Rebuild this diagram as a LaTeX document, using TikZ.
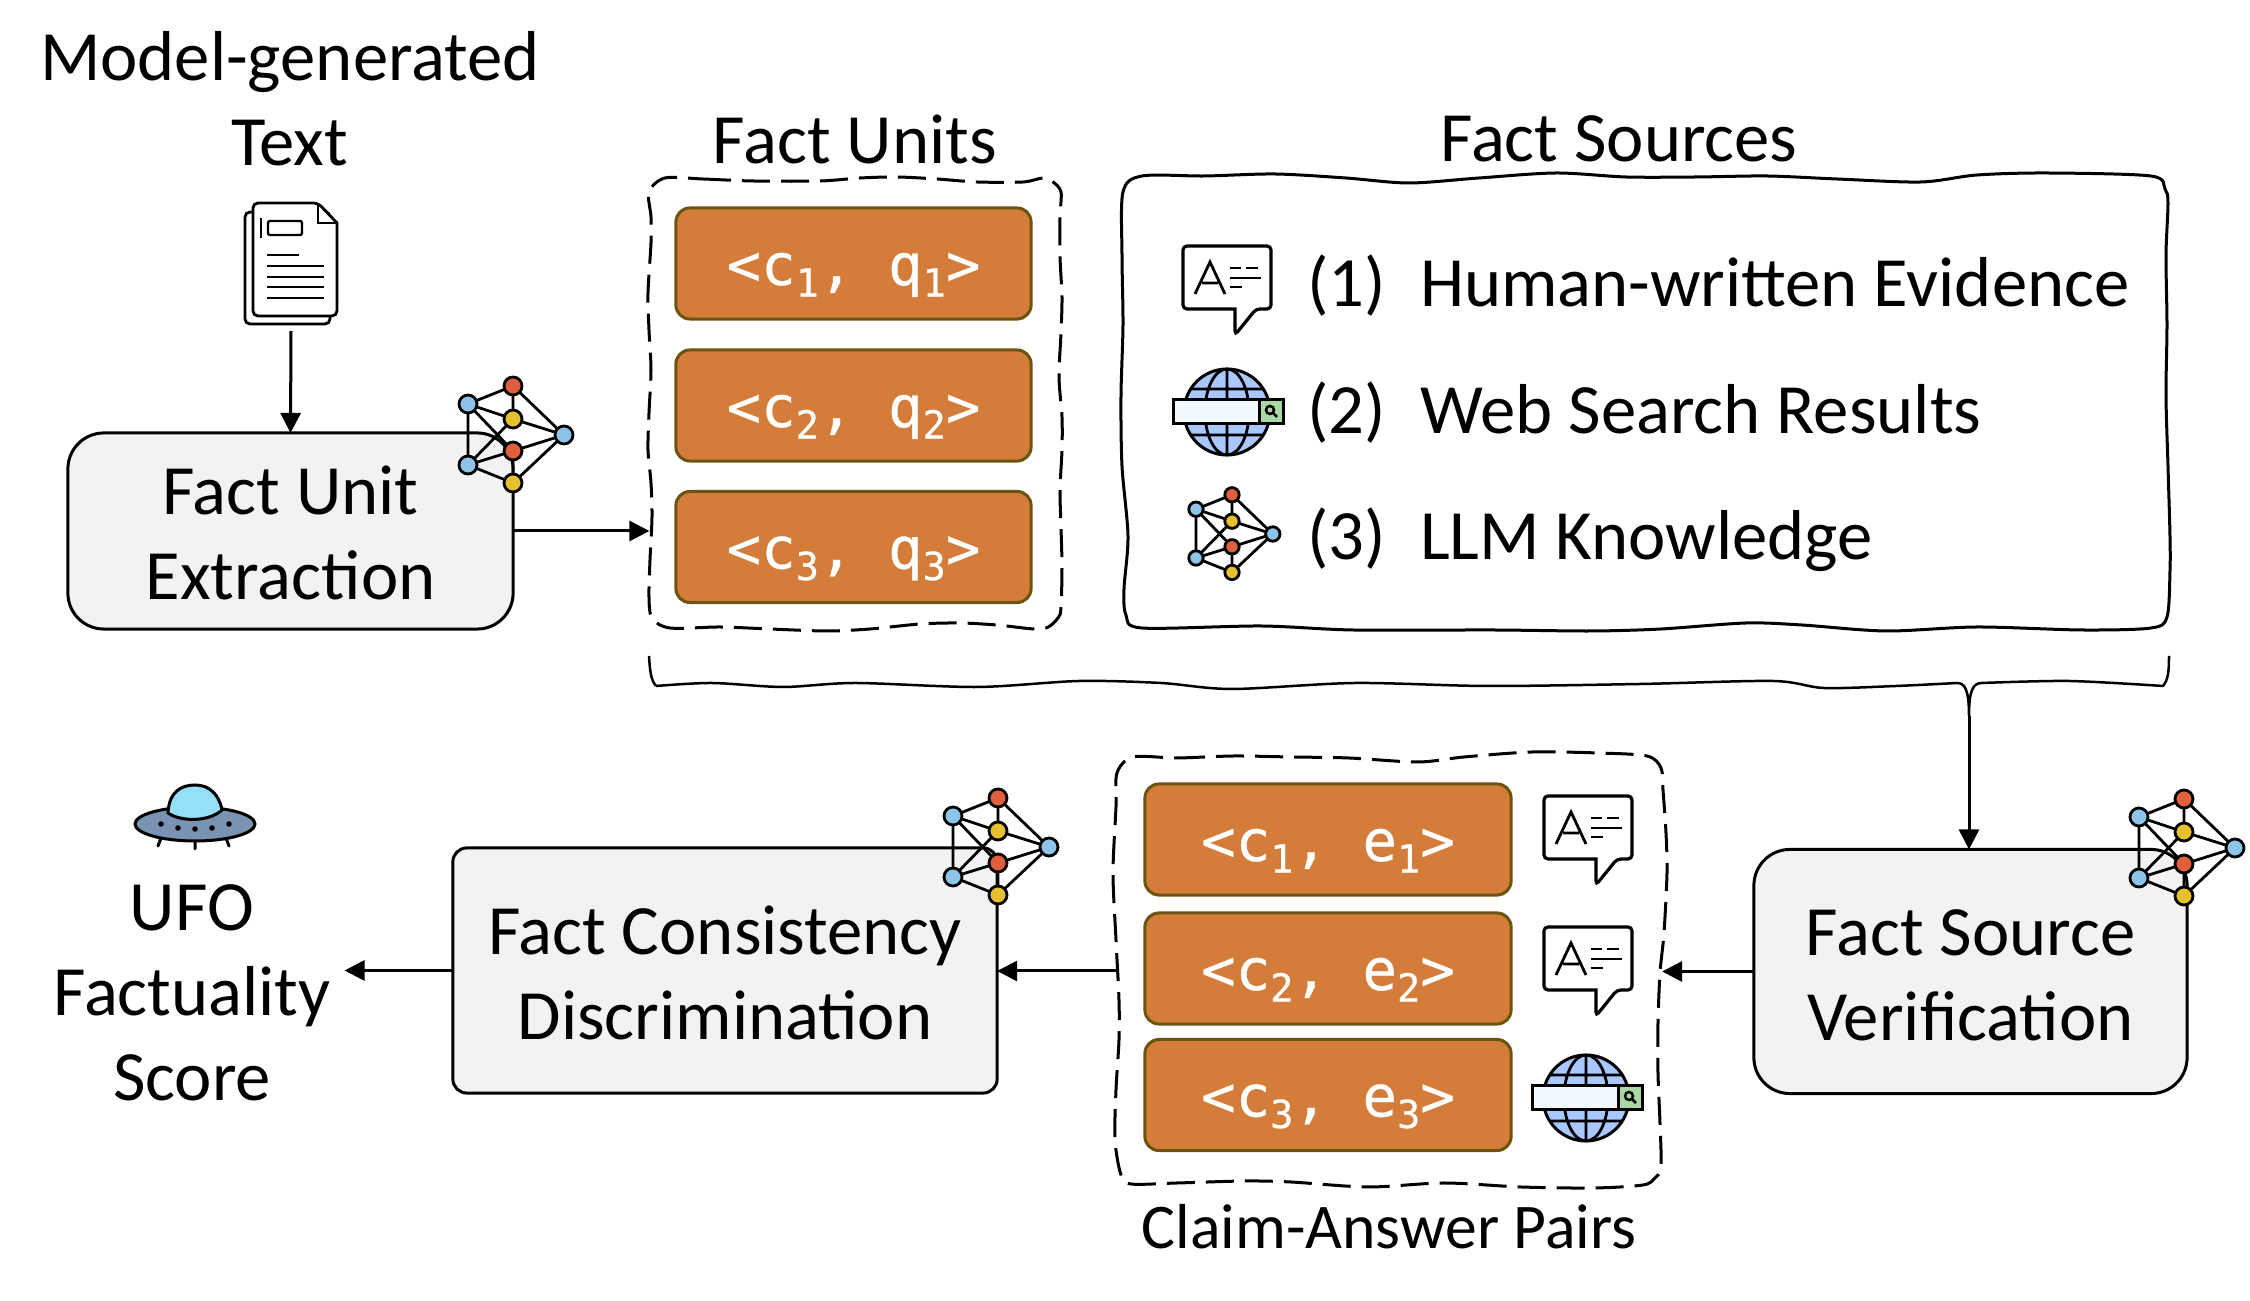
\documentclass[tikz,border=0pt]{standalone}
\usepackage{fontspec}
\setmainfont{Carlito}
\newfontfamily\pairfont[FakeBold=0.5]{DejaVu Sans Mono}
\usetikzlibrary{arrows.meta}
\definecolor{boxgray}{HTML}{F2F2F2}
\definecolor{pairfill}{HTML}{D47C3A}
\definecolor{pairline}{HTML}{6B5412}
\definecolor{netblue}{HTML}{8DC4EA}
\definecolor{netred}{HTML}{E0603E}
\definecolor{netyellow}{HTML}{E6C02F}
\definecolor{globeblue}{HTML}{A8C8FF}
\definecolor{barwhite}{HTML}{F2F9FF}
\definecolor{bargreen}{HTML}{A9D8A6}
\definecolor{domeblue}{HTML}{94E0F8}
\definecolor{discgray}{HTML}{7B93B3}
\newcommand{\pairtext}[2]{{\pairfont\fontsize{16.3}{20}\selectfont <c\raisebox{-3.3pt}{\fontsize{11}{12}\selectfont #1},\ #2\raisebox{-3.3pt}{\fontsize{11}{12}\selectfont #1}>}}
\newcommand{\topstrut}{\rule{0pt}{15pt}}
\tikzset{
  textlabel/.style={font=\fontsize{20.1}{24.2}\selectfont,inner sep=0pt,outer sep=0pt,align=center},
  bigbox/.style={textlabel,draw,line width=0.03cm,fill=boxgray},
  pairbox/.style={draw=pairline,line width=0.03cm,fill=pairfill,text=white,rounded corners=0.14cm,inner sep=0pt,outer sep=0pt,text height=12.2pt,text depth=0pt},
  areabox/.style={inner sep=0pt,outer sep=0pt},
  flow/.style={line width=0.03cm,-{Triangle[length=0.2cm,width=0.2cm]}},
  wavy/.style={line width=0.03cm,line join=round},
  chaticon/.pic={
    \draw [line width=0.032cm,fill=white,rounded corners=0.04cm] (-44,-44) -- (44,-44) -- (44,19) -- (29,19) -- (8,45) [sharp corners] -- (8,19) [rounded corners=0.04cm] -- (-44,19) -- cycle;
    \draw [line width=0.028cm] (-32,4) -- (-17,-28) -- (-2,4) (-25,-7) -- (-9,-7);
    \draw [line width=0.026cm] (3,-22) -- (14,-22) (19,-22) -- (31,-22) (3,-12) -- (34,-12) (3,-3) -- (15,-3);
  },
  globeicon/.pic={
    \draw [line width=0.03cm,fill=globeblue] (0,0) circle (43);
    \draw [line width=0.028cm] (0,-43) -- (0,43) (0,0) ellipse (22 and 43) (-36,-23) -- (36,-23) (-36,23) -- (36,23);
    \draw [line width=0.03cm,fill=barwhite] (-54,-12) rectangle (32,12);
    \draw [line width=0.03cm,fill=bargreen] (32,-12) rectangle (56,12);
    \draw [line width=0.025cm] (43,-2) circle (4) (46,1) -- (50,5);
  },
  neticon/.pic={
    \draw [line width=0.028cm] (-45,-31) -- (0,-49) (-45,-31) -- (0,-16) (-45,-31) -- (-45,30) (-45,-31) -- (0,16)
      (0,-49) -- (0,-16) (0,-49) -- (51,0) (0,-16) -- (51,0) (0,-16) -- (-45,30)
      (-45,30) -- (0,16) (-45,30) -- (0,48) (0,16) -- (0,48) (0,16) -- (51,0) (0,48) -- (51,0);
    \draw [line width=0.028cm,fill=netblue] (-45,-31) circle (9);
    \draw [line width=0.028cm,fill=netred] (0,-49) circle (9);
    \draw [line width=0.028cm,fill=netyellow] (0,-16) circle (9);
    \draw [line width=0.028cm,fill=netblue] (-45,30) circle (9);
    \draw [line width=0.028cm,fill=netred] (0,16) circle (9);
    \draw [line width=0.028cm,fill=netyellow] (0,48) circle (9);
    \draw [line width=0.028cm,fill=netblue] (51,0) circle (9);
  },
  docicon/.pic={
    \draw [line width=0.028cm,fill=white,rounded corners=0.05cm] (-46,-51) rectangle (39,61);
    \draw [line width=0.028cm,fill=white,rounded corners=0.05cm] (-38,-60) -- (27,-60) [sharp corners] -- (46,-40) [rounded corners=0.05cm] -- (46,53) -- (-38,53) -- cycle;
    \draw [line width=0.024cm] (27,-60) -- (27,-40) -- (46,-40);
    \draw [line width=0.024cm,rounded corners=0.02cm] (-23,-42) rectangle (11,-28);
    \draw [line width=0.024cm] (-30,-45) -- (-30,-25) (-24,-8) -- (8,-8) (-24,3) -- (33,3) (-24,14) -- (33,14) (-24,24) -- (33,24) (-24,35) -- (33,35);
  },
  ufoicon/.pic={
    \draw [line width=0.03cm,line cap=round] (-34,14) -- (-37,22) (0,16) -- (0,25) (31,14) -- (34,22);
    \draw [line width=0.03cm,fill=discgray] (0,0) ellipse (60 and 17);
    \draw [line width=0.03cm,fill=domeblue] (-27,-11) .. controls (-26,-32) and (-14,-39) .. (0,-39) .. controls (14,-39) and (24,-30) .. (27,-14) .. controls (14,-2) and (-14,-2) .. (-27,-11) -- cycle;
    \fill (-34,0) circle (2.8) (-17,4) circle (2.8) (0,5) circle (2.8) (17,4) circle (2.8) (34,0) circle (2.8);
  },
}
\begin{document}
\begin{tikzpicture}[x=0.01cm,y=-0.01cm]
\useasboundingbox (0,0) rectangle (2250,1301);

% Drawing input text
\node [textlabel] (modeltext) at (290,99) {Model-generated\\Text};
\node [areabox,minimum width=0.92cm,minimum height=1.28cm] (doc) at (291,267) {};
\pic at (291,263) {docicon};

% Drawing box Fact Unit Extraction
\node [bigbox,rounded corners=0.36cm,minimum width=4.45cm,minimum height=1.96cm] (unitbox) at (290.5,531) {\topstrut Fact Unit\\Extraction};

% Drawing area Fact Units
\node [textlabel] (unitlabel) at (855,139) {Fact Units};
\node [areabox,minimum width=4.11cm,minimum height=4.5cm] (unitarea) at (855,403) {};
\draw [wavy,dash pattern=on 0.28cm off 0.11cm] plot [smooth cycle,tension=0.5] coordinates {(665,178) (703,179) (753,181) (820,181) (860,178) (897,177) (937,179) (977,182) (1023,182) (1043,178) (1053,182) (1061,192) (1060,217) (1060,257) (1062,297) (1061,333) (1059,377) (1062,417) (1062,450) (1060,490) (1061,527) (1062,567) (1061,607) (1058,618) (1042,629) (997,625) (960,623) (920,624) (870,629) (827,631) (770,629) (720,627) (670,628) (652,618) (649,597) (650,560) (652,517) (651,483) (648,450) (649,413) (651,370) (649,330) (648,293) (651,243) (651,217) (649,192)};
\node [pairbox,minimum width=3.55cm,minimum height=1.11cm] (unitone) at (853.5,263.5) {\pairtext{1}{q}};
\node [pairbox,minimum width=3.55cm,minimum height=1.11cm] (unittwo) at (853.5,405.5) {\pairtext{2}{q}};
\node [pairbox,minimum width=3.55cm,minimum height=1.11cm] (unitthree) at (853.5,547) {\pairtext{3}{q}};

% Drawing area Fact Sources
\node [textlabel] (sourcelabel) at (1619,139) {Fact Sources};
\node [areabox,minimum width=10.5cm,minimum height=4.55cm] (sourcearea) at (1646,403) {};
\draw [wavy] plot [smooth cycle,tension=0.5] coordinates {(1142,176) (1205,176) (1275,174) (1346,178) (1409,183) (1479,178) (1556,173) (1626,177) (1696,177) (1767,176) (1837,179) (1921,182) (1977,175) (2047,173) (2151,176) (2165,189) (2168,203) (2166,255) (2167,325) (2166,396) (2168,466) (2170,536) (2170,571) (2167,617) (2151,628) (2082,630) (1977,627) (1886,631) (1802,625) (1746,623) (1661,629) (1591,631) (1493,630) (1353,630) (1261,626) (1142,628) (1126,615) (1124,589) (1128,536) (1122,466) (1121,396) (1123,325) (1122,255) (1123,192)};
\pic at (1227,290) {chaticon};
\pic at (1227,412) {globeicon};
\pic [scale=0.8] at (1232,534) {neticon};
\node [textlabel,anchor=base west] (numone) at (1307,307) {(1)};
\node [textlabel,anchor=base west] (numtwo) at (1307,434) {(2)};
\node [textlabel,anchor=base west] (numthree) at (1307,560) {(3)};
\node [textlabel,anchor=base west] (sourceone) at (1420,307) {Human-written Evidence};
\node [textlabel,anchor=base west] (sourcetwo) at (1420,434) {Web Search Results};
\node [textlabel,anchor=base west] (sourcethree) at (1420,560) {LLM Knowledge};

% Drawing brace under both areas
\coordinate (bracetip) at (1969,716);
\draw [wavy,line width=0.025cm] (649,656) .. controls (650,672) and (651,680) .. (656,686) plot [smooth,tension=0.5] coordinates {(656,686) (712,683) (783,687) (855,683) (977,687) (1079,681) (1161,683) (1232,689) (1355,683) (1487,686) (1640,684) (1773,681) (1824,688) (1896,686) (1957,683)} .. controls (1965,683) and (1969,690) .. (bracetip) .. controls (1969,690) and (1973,683) .. (1982,683) plot [smooth,tension=0.5] coordinates {(1982,683) (2069,681) (2163,686)} .. controls (2168,680) and (2169,672) .. (2169,656);

% Drawing box Fact Source Verification
\node [bigbox,rounded corners=0.36cm,minimum width=4.33cm,minimum height=2.44cm] (verifybox) at (1970.5,971.5) {\topstrut Fact Source\\Verification};

% Drawing area Claim-Answer Pairs
\node [areabox,minimum width=5.45cm,minimum height=4.3cm] (pairarea) at (1389.5,971) {};
\draw [wavy,dash pattern=on 0.28cm off 0.11cm] plot [smooth cycle,tension=0.5] coordinates {(1133,757) (1177,758) (1234,756) (1291,757) (1349,758) (1418,762) (1464,757) (1532,752) (1598,753) (1647,756) (1661,768) (1663,790) (1666,833) (1667,873) (1664,933) (1660,973) (1658,1023) (1658,1073) (1660,1123) (1661,1167) (1655,1178) (1643,1185) (1594,1188) (1521,1187) (1444,1183) (1368,1187) (1291,1182) (1245,1181) (1177,1183) (1131,1184) (1121,1175) (1115,1140) (1116,1090) (1119,1040) (1119,1000) (1116,940) (1113,873) (1116,807) (1117,773)};
\node [pairbox,minimum width=3.66cm,minimum height=1.11cm] (pairone) at (1328,839.5) {\pairtext{1}{e}};
\node [pairbox,minimum width=3.66cm,minimum height=1.11cm] (pairtwo) at (1328,968.5) {\pairtext{2}{e}};
\node [pairbox,minimum width=3.66cm,minimum height=1.11cm] (pairthree) at (1328,1095) {\pairtext{3}{e}};
\pic at (1588,840) {chaticon};
\pic at (1588,971) {chaticon};
\pic at (1586,1098) {globeicon};
\node [textlabel,font=\fontsize{18.1}{22}\selectfont] (pairlabel) at (1389,1227) {Claim-Answer Pairs};

% Drawing box Fact Consistency Discrimination
\node [bigbox,rounded corners=0.14cm,minimum width=5.44cm,minimum height=2.45cm] (judgebox) at (725,970.5) {\topstrut Fact Consistency\\Discrimination};

% Drawing score
\pic at (195,824) {ufoicon};
\node [textlabel,inner xsep=0.14cm] (score) at (192,993) {UFO\\Factuality\\Score};

% Drawing arrows
\draw [flow] (doc.south) -- (unitbox.north);
\draw [flow] (unitbox.east) -- (unitarea.west |- unitbox.east);
\draw [flow] (bracetip) -- (bracetip |- verifybox.north);
\draw [flow] (verifybox.west) -- (pairarea.east |- verifybox.west);
\draw [flow] (pairarea.west) -- (judgebox.east |- pairarea.west);
\draw [flow] (judgebox.west) -- (score.east |- judgebox.west);

% Drawing model icons on box corners
\pic at (513,435) {neticon};
\pic at (998,847) {neticon};
\pic at (2184,848) {neticon};
\end{tikzpicture}
\end{document}
